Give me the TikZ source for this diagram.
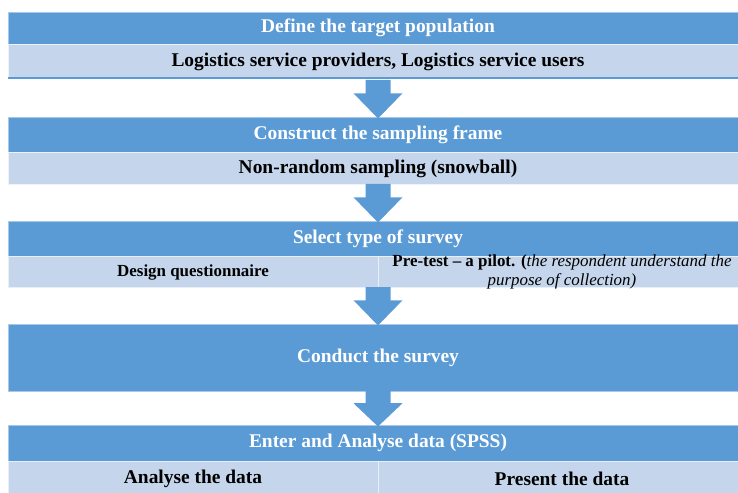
\documentclass[tikz,border=0pt]{standalone}
\usepackage{fontspec}
\setmainfont{Liberation Serif}
\usetikzlibrary{calc}
\definecolor{darkc}{HTML}{5B9BD5}
\definecolor{lightc}{HTML}{C5D6EC}
\definecolor{edgec}{HTML}{A9C7E8}
\tikzset{
  darkband/.style={fill=darkc, draw=edgec, line width=0.6bp, anchor=north west, minimum width=730bp, inner sep=0pt, outer sep=0pt},
  lightband/.style={fill=lightc, draw=white!70!lightc, line width=0.6bp, anchor=north west, minimum width=730bp, inner sep=0pt, outer sep=0pt},
  halfband/.style={fill=lightc, draw=white!60!lightc, line width=0.6bp, anchor=north west, inner sep=0pt, outer sep=0pt},
  headtext/.style={text=white, font=\bfseries\fontsize{19.5}{23}\selectfont, inner sep=0pt},
  bandtext/.style={text=black, font=\bfseries\fontsize{19.5}{23}\selectfont, inner sep=0pt},
  smalltext/.style={text=black, font=\bfseries\fontsize{17}{18.5}\selectfont, inner sep=0pt, align=center},
  arrowfill/.style={fill=darkc}
}
\newcommand\blockarrow[2]{%
  \fill[arrowfill] let \p1=(#1 -| ax), \p2=(#2 -| ax) in
    ({\x1-12.5bp},\y1) -- ({\x1+12.5bp},\y1) -- ({\x1+12.5bp},{\y1+0.36*(\y2-\y1)}) --
    ({\x1+24.5bp},{\y1+0.36*(\y2-\y1)}) -- (\x1,{\y2-1.5bp}) --
    ({\x1-24.5bp},{\y1+0.36*(\y2-\y1)}) -- ({\x1-12.5bp},{\y1+0.36*(\y2-\y1)}) -- cycle;}
\begin{document}
\begin{tikzpicture}[x=1bp,y=-1bp]
\useasboundingbox (0,0) rectangle (738,493);
\coordinate (ax) at (378,0);
% box 1
\node[darkband, minimum height=32bp] (d1) at (8,12) {};
\node[lightband, minimum height=33bp] (l1) at (8,44) {};
\fill[darkc] (l1.south west) rectangle ([yshift=-2.5bp]l1.south east);
\coordinate (l1b) at ([yshift=-3bp]l1.south);
\node[headtext] (t1) at (d1.center -| ax) {Define the target population};
\node[bandtext] (t1b) at ($(l1.center -| ax)+(0,1)$) {Logistics service providers, Logistics service users};
% box 2
\node[darkband, minimum height=35bp] (d2) at (8,117) {};
\node[lightband, minimum height=32bp] (l2) at (8,152) {};
\node[headtext] (t2) at (d2.center -| ax) {Construct the sampling frame};
\node[bandtext] (t2b) at ($(l2.center -| ax)+(0,1)$) {Non-random sampling (snowball)};
% box 3
\node[darkband, minimum height=35bp] (d3) at (8,221) {};
\node[headtext] (t3) at (d3.center -| ax) {Select type of survey};
\node[halfband, minimum width=370bp, minimum height=31bp] (l3a) at (8,256) {};
\node[halfband, minimum width=360bp, minimum height=31bp] (l3b) at (378,256) {};
\node[smalltext] (t3a) at (193,272) {Design questionnaire};
\node[smalltext] (t3b) at (562,272) {Pre-test – a pilot. (\textit{\mdseries the respondent understand the}\\ \textit{\mdseries purpose of collection)}};
% box 4
\node[darkband, minimum height=67bp] (d4) at (8,324) {};
\node[headtext] (t4) at ($(d4.center -| ax)+(0,0)$) {Conduct the survey};
% box 5
\node[darkband, minimum height=36bp] (d5) at (8,425) {};
\node[headtext] (t5) at (d5.center -| ax) {Enter and Analyse data (SPSS)};
\node[halfband, minimum width=370bp, minimum height=33bp] (l5a) at (8,461) {};
\node[halfband, minimum width=360bp, minimum height=33bp] (l5b) at (378,461) {};
\node[bandtext] (t5a) at (193,479) {Analyse the data};
\node[bandtext] (t5b) at (562,479) {Present the data};
% arrows
\blockarrow{l1b}{d2.north}
\blockarrow{l2.south}{d3.north}
\blockarrow{l3b.south west}{d4.north}
\blockarrow{d4.south}{d5.north}
\end{tikzpicture}
\end{document}
